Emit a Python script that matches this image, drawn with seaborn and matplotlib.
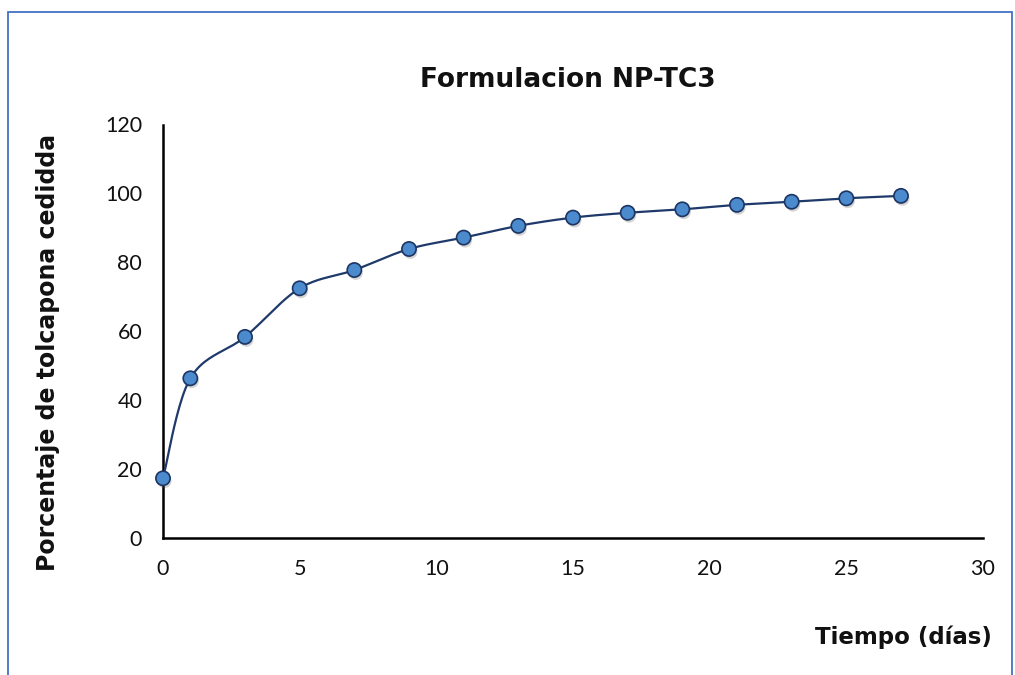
import numpy as np
import pandas as pd
import matplotlib
matplotlib.use("Agg")
import matplotlib.pyplot as plt
import matplotlib.patheffects as pe
from matplotlib.patches import Rectangle
import seaborn as sns

# Release profile of formulation NP-TC3
dias = [0, 1, 3, 5, 7, 9, 11, 13, 15, 17, 19, 21, 23, 25, 27]
porcentaje = [17.4, 46.4, 58.4, 72.5, 77.8, 83.9, 87.2, 90.6, 93.0, 94.4, 95.4, 96.7, 97.6, 98.6, 99.3]

x_ticks = [0, 5, 10, 15, 20, 25, 30]
y_ticks = [0, 20, 40, 60, 80, 100, 120]

titulo = "Formulacion NP-TC3"
etiqueta_x = "Tiempo (días)"
etiqueta_y = "Porcentaje de tolcapona cedidda"

sns.set_theme(style="white")
plt.rcParams["font.family"] = ["DejaVu Sans"]

W, H = 1015, 675
fig = plt.figure(figsize=(W / 100, H / 100), dpi=100)
ax = fig.add_axes([163 / W, 1 - 538.3 / H, (983 - 163) / W, (538.3 - 124.5) / H])


def suavizar(xs, ys, n=24):
    """Catmull-Rom spline through the points (parametric), like a smoothed chart line."""
    p = np.column_stack([xs, ys]).astype(float)
    p = np.vstack([p[0], p, p[-1]])
    out = []
    for i in range(1, len(p) - 2):
        p0, p1, p2, p3 = p[i - 1], p[i], p[i + 1], p[i + 2]
        t = np.linspace(0, 1, n, endpoint=(i == len(p) - 3))[:, None]
        c = 0.5 * ((2 * p1) + (-p0 + p2) * t + (2 * p0 - 5 * p1 + 4 * p2 - p3) * t ** 2
                   + (-p0 + 3 * p1 - 3 * p2 + p3) * t ** 3)
        out.append(c)
    c = np.vstack(out)
    return c[:, 0], c[:, 1]


df = pd.DataFrame({"dias": dias, "porcentaje": porcentaje})
sx, sy = suavizar(df["dias"].values, df["porcentaje"].values)
curva = pd.DataFrame({"x": sx, "y": sy})

sns.lineplot(data=curva, x="x", y="y", sort=False, color="#1f3a6a", linewidth=1.6,
             ax=ax, zorder=2)
sns.scatterplot(data=df, x="dias", y="porcentaje", s=105, color="#4a8acd",
                edgecolor="#1c3563", linewidth=1.2, ax=ax, zorder=3, clip_on=False)
for coll in ax.collections:
    coll.set_clip_on(False)
    coll.set_path_effects([pe.SimplePatchShadow(offset=(1.0, -2.0), alpha=0.25, shadow_rgbFace="#555555"),
                           pe.Normal()])
for ln in ax.lines:
    ln.set_clip_on(False)

ax.set_xlim(0, 30)
ax.set_ylim(0, 120)
ax.set_xticks(x_ticks)
ax.set_yticks(y_ticks)
ax.set_xticklabels([str(v) for v in x_ticks], fontfamily="Lato", fontsize=15.5, color="#111111")
ax.set_yticklabels([str(v) for v in y_ticks], fontfamily="Lato", fontsize=15.5, color="#111111")
ax.tick_params(axis="both", length=0)
ax.tick_params(axis="x", pad=15)
ax.tick_params(axis="y", pad=15)
ax.set_xlabel("")
ax.set_ylabel("")
ax.grid(False)
for side in ["top", "right"]:
    ax.spines[side].set_visible(False)
for side in ["left", "bottom"]:
    ax.spines[side].set_color("black")
    ax.spines[side].set_linewidth(1.8)
    ax.spines[side].set_zorder(1)

fig.text(568 / W, 1 - 80 / H, titulo, ha="center", va="center", fontsize=19,
         fontweight="bold", color="#111111")
fig.text(903 / W, 1 - 637 / H, etiqueta_x, ha="center", va="center", fontsize=16.5,
         fontweight="bold", color="#111111")
fig.text(48 / W, 1 - 352 / H, etiqueta_y, ha="center", va="center", rotation=90,
         fontsize=17, fontweight="bold", color="#111111")

# outer chart frame
fig.add_artist(Rectangle((8 / W, -0.05), (1012 - 8) / W, 1.05 - 12 / H,
                         transform=fig.transFigure, fill=False,
                         edgecolor="#4472c4", linewidth=1.3))

fig.savefig("out.png", dpi=100)
